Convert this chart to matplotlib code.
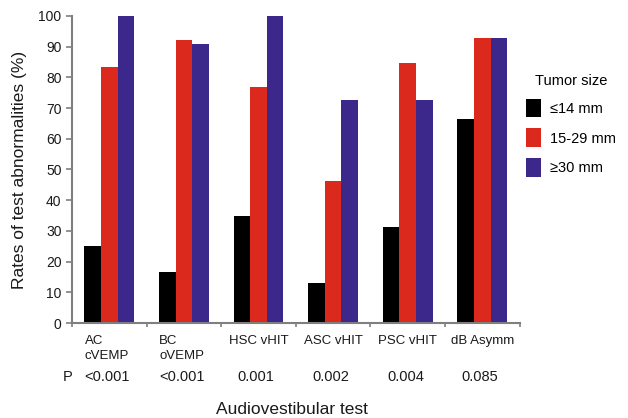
import matplotlib.pyplot as plt
import numpy as np

plt.rcParams['font.family'] = ['Liberation Sans', 'DejaVu Sans']

# data
tests = ['AC\ncVEMP', 'BC\noVEMP', 'HSC vHIT', 'ASC vHIT', 'PSC vHIT', 'dB Asymm']
p_values = ['<0.001', '<0.001', '0.001', '0.002', '0.004', '0.085']
small = [25.0, 16.7, 35.0, 13.0, 31.3, 66.4]
medium = [83.3, 92.3, 77.0, 46.2, 84.6, 92.9]
large = [100.0, 90.9, 100.0, 72.7, 72.7, 92.9]
sizes = ['\u2264' + '14 mm', '15-29 mm', '\u2265' + '30 mm']

black = '#000000'
red = '#dc291e'
blue = '#3c278b'

fig = plt.figure(figsize=(6.28, 4.18), dpi=100)
ax = fig.add_axes([0.1146, 0.227, 0.713, 0.735])

x = np.arange(len(tests))
w = 0.223
ax.bar(x - w, small, w, color=black, label=sizes[0])
ax.bar(x, medium, w, color=red, label=sizes[1])
ax.bar(x + w, large, w, color=blue, label=sizes[2])

ax.set_xlim(-0.5, 5.5)
ax.set_ylim(0, 100)
ax.set_yticks(range(0, 101, 10))
ax.set_xticks(np.arange(-0.5, 6, 1.0))
ax.set_xticklabels([])
for s in ['top', 'right']:
    ax.spines[s].set_visible(False)
for s in ['left', 'bottom']:
    ax.spines[s].set_color('#7f7f7f')
    ax.spines[s].set_linewidth(1.5)
ax.tick_params(axis='both', colors='#7f7f7f', width=1.2, length=4, labelsize=10, labelcolor='#1a1a1a')
ax.tick_params(axis='x', length=3)

# category labels under the axis
for i, t in enumerate(tests):
    if '\n' in t:
        ax.text(i - 0.33, -4, t, ha='left', va='top', fontsize=9.5, color='#1a1a1a',
                linespacing=1.3)
    else:
        ax.text(i, -4, t, ha='center', va='top', fontsize=9.5, color='#1a1a1a')
    ax.text(i - 0.03, -17.5, p_values[i], ha='center', va='center', fontsize=10.5, color='#1a1a1a')
ax.text(-0.56, -17.5, 'P', ha='center', va='center', fontsize=10.5, color='#1a1a1a')

ax.set_ylabel('Rates of test abnormalities (%)', fontsize=12.5, color='#1a1a1a', labelpad=8)
fig.text(0.465, 0.02, 'Audiovestibular test', ha='center', va='center', fontsize=12.5, color='#1a1a1a')

leg = ax.legend(title='Tumor size', frameon=False, loc='upper left',
                bbox_to_anchor=(0.995, 0.84), fontsize=10.5, title_fontsize=10.5,
                handlelength=1.0, handleheight=1.6, labelspacing=0.75, handletextpad=0.6,
                borderaxespad=0.2)
leg._legend_box.align = 'center'

plt.savefig('out.png', dpi=100)
